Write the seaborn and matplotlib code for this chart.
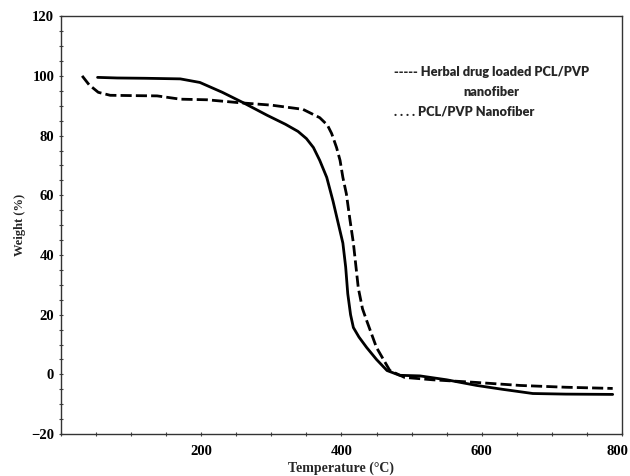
import matplotlib
matplotlib.use("Agg")
import matplotlib.pyplot as plt
import matplotlib.ticker as mticker
import matplotlib.transforms as mtransforms
import pandas as pd
import seaborn as sns

# TGA curves
pcl_temp = [52, 80, 120, 170, 198, 230, 260, 294, 320, 338, 350, 360, 369, 379,
            388, 396, 402, 406, 409, 413, 417, 425, 436, 450, 465, 483, 512,
            550, 593, 630, 673, 720, 787]
pcl_weight = [99.5, 99.3, 99.2, 99.0, 97.8, 94.5, 91.0, 86.8, 83.8, 81.4, 79.0,
              76.0, 71.7, 66.0, 58.0, 50.0, 44.0, 36.0, 27.0, 20.0, 15.7, 12.5,
              9.0, 5.0, 1.3, -0.3, -0.5, -1.8, -3.7, -5.0, -6.4, -6.6, -6.7]

herbal_temp = [30, 40, 53, 70, 100, 137, 170, 208, 255, 300, 345, 369, 380,
               386, 393, 398, 402, 407, 412, 417, 424, 430, 436, 450, 469, 490,
               530, 593, 655, 720, 787]
herbal_weight = [100.0, 97.0, 94.5, 93.5, 93.4, 93.3, 92.2, 92.0, 91.0, 90.2,
                 88.8, 86.0, 83.5, 80.7, 76.0, 71.7, 66.0, 60.5, 52.0, 44.0,
                 29.0, 22.0, 18.0, 9.0, 1.3, -1.0, -1.8, -2.7, -3.7, -4.3, -4.7]

df = pd.concat([
    pd.DataFrame({"Temperature": herbal_temp, "Weight": herbal_weight,
                  "sample": "Herbal drug loaded PCL/PVP nanofiber"}),
    pd.DataFrame({"Temperature": pcl_temp, "Weight": pcl_weight,
                  "sample": "PCL/PVP Nanofiber"}),
])

sns.set_style("ticks")
plt.rcParams["font.family"] = ["Liberation Serif", "DejaVu Serif"]

fig = plt.figure(figsize=(6.3, 4.76), dpi=100)
ax = fig.add_axes([0.097, 0.088, 0.890, 0.878])

sns.lineplot(data=df, x="Temperature", y="Weight", style="sample",
             dashes={"Herbal drug loaded PCL/PVP nanofiber": (4, 1.5),
                     "PCL/PVP Nanofiber": ""},
             color="black", linewidth=2.0, sort=False, estimator=None,
             legend=False, ax=ax)

ax.set_xlim(0, 800)
ax.set_ylim(-20, 120)
ax.set_xticks([200, 400, 600, 800])
ax.xaxis.set_minor_locator(mticker.MultipleLocator(50))
ax.yaxis.set_major_locator(mticker.MultipleLocator(20))
ax.yaxis.set_minor_locator(mticker.MultipleLocator(5))
ax.tick_params(which="both", direction="inout", length=3, width=0.8, colors="#444444",
               labelcolor="black")
ax.tick_params(axis="x", which="major", pad=6)
for lab in ax.get_xticklabels() + ax.get_yticklabels():
    lab.set_fontweight("bold")
    lab.set_fontsize(10.5)
# the last label sits on the right edge, as in the original
last = ax.get_xticklabels()[-1]
last.set_ha("right")
last.set_transform(last.get_transform() +
                   mtransforms.ScaledTranslation(7 / 100, 0, fig.dpi_scale_trans))

for sp in ax.spines.values():
    sp.set_linewidth(1.0)
    sp.set_color("#333333")

ax.set_xlabel("Temperature (°C)", fontsize=10, fontweight="bold", labelpad=3)
ax.set_ylabel("Weight (%)", fontsize=9, fontweight="bold", labelpad=4)

# legend written as plain text, as in the original figure
lfont = dict(fontsize=9.2, fontweight="heavy", family=["Lato", "DejaVu Sans"],
             transform=ax.transAxes, va="center")
ax.text(0.594, 0.866, "----- Herbal drug loaded PCL/PVP", ha="left", **lfont)
ax.text(0.768, 0.818, "nanofiber", ha="center", **lfont)
ax.text(0.594, 0.773, ". . . . PCL/PVP Nanofiber", ha="left", **lfont)

fig.savefig("out.png", dpi=100)
